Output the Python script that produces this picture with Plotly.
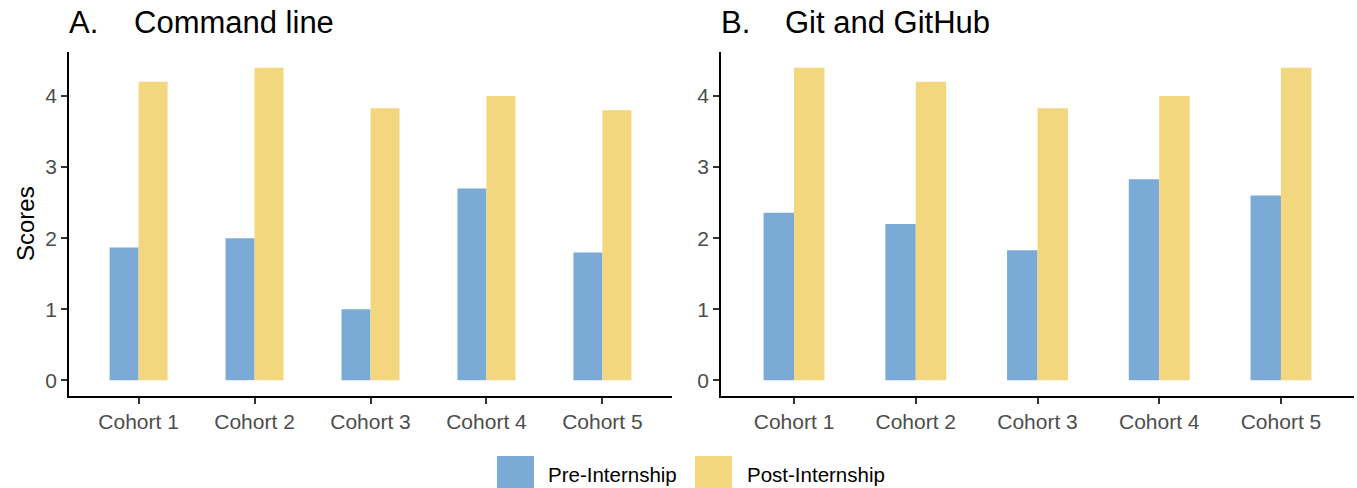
import plotly.graph_objects as go

W, H = 1357, 488

cohorts = ["Cohort 1", "Cohort 2", "Cohort 3", "Cohort 4", "Cohort 5"]
cmd_pre = [1.87, 2.0, 1.0, 2.7, 1.8]
cmd_post = [4.2, 4.4, 3.83, 4.0, 3.8]
git_pre = [2.36, 2.2, 1.83, 2.83, 2.6]
git_post = [4.4, 4.2, 3.83, 4.0, 4.4]
y_ticks = [0, 1, 2, 3, 4]
series_names = ["Pre-Internship", "Post-Internship"]
series_colors = ["#7BAAD6", "#F2D77E"]
panel_titles = [("A.", "Command line"), ("B.", "Git and GitHub")]

FONT = "Liberation Sans, Arial, sans-serif"

fig = go.Figure()
for vals, name, col in zip([cmd_pre, cmd_post], series_names, series_colors):
    fig.add_trace(go.Bar(x=cohorts, y=vals, name=name, marker=dict(color=col, line=dict(width=0)),
                         xaxis="x", yaxis="y", showlegend=False))
for vals, name, col in zip([git_pre, git_post], series_names, series_colors):
    fig.add_trace(go.Bar(x=cohorts, y=vals, name=name, marker=dict(color=col, line=dict(width=0)),
                         xaxis="x2", yaxis="y2", showlegend=False))

def px_x(p):
    return p / W

def px_y(p):
    return 1 - p / H

ydom = [px_y(396), px_y(52)]
common_x = dict(showline=True, linecolor="black", linewidth=1.8, ticks="outside", ticklen=6,
                tickcolor="#333333", tickwidth=1.5, showgrid=False, zeroline=False,
                tickfont=dict(family=FONT, size=21, color="#4D4D4D"), range=[-0.6, 4.6],
                fixedrange=True)
common_y = dict(showline=True, linecolor="black", linewidth=1.8, ticks="outside", ticklen=6,
                tickcolor="#333333", tickwidth=1.5, showgrid=False, zeroline=False,
                tickfont=dict(family=FONT, size=21, color="#4D4D4D"), range=[-0.22, 4.62],
                tickvals=y_ticks, domain=ydom, fixedrange=True)

annotations = []
for (lab, ttl), lx, tx in zip(panel_titles, [67, 719], [132, 783]):
    annotations.append(dict(text=lab, x=px_x(lx), y=px_y(23), xref="paper", yref="paper",
                            xanchor="left", yanchor="middle", showarrow=False,
                            font=dict(family=FONT, size=31, color="black")))
    annotations.append(dict(text=ttl, x=px_x(tx), y=px_y(23), xref="paper", yref="paper",
                            xanchor="left", yanchor="middle", showarrow=False,
                            font=dict(family=FONT, size=31, color="black")))
annotations.append(dict(text="Scores", x=px_x(25), y=px_y(224), xref="paper", yref="paper",
                        xanchor="center", yanchor="middle", textangle=-90, showarrow=False,
                        font=dict(family=FONT, size=24, color="black")))

shapes = []
key_x = [497, 695]
text_x = [546, 745]
for kx, tx, name, col in zip(key_x, text_x, series_names, series_colors):
    shapes.append(dict(type="rect", xref="paper", yref="paper", x0=px_x(kx), x1=px_x(kx + 37),
                       y0=px_y(488), y1=px_y(456), fillcolor=col, line=dict(width=0)))
    annotations.append(dict(text=name, x=px_x(tx), y=px_y(474), xref="paper", yref="paper",
                            xanchor="left", yanchor="middle", showarrow=False,
                            font=dict(family=FONT, size=20.5, color="black")))

fig.update_layout(
    width=W, height=H, autosize=False,
    margin=dict(l=0, r=0, t=0, b=0),
    paper_bgcolor="white", plot_bgcolor="white",
    barmode="group", bargap=0.5, bargroupgap=0,
    xaxis=dict(domain=[px_x(69), px_x(672)], anchor="y", **common_x),
    yaxis=dict(anchor="x", **common_y),
    xaxis2=dict(domain=[px_x(721), px_x(1354)], anchor="y2", **common_x),
    yaxis2=dict(anchor="x2", **common_y),
    annotations=annotations, shapes=shapes,
    showlegend=False,
    font=dict(family=FONT),
)

fig.write_html(
    "out.html",
    config={"displayModeBar": False},
    post_script="document.body.style.margin='0';document.body.style.padding='0';"
                "document.body.style.overflow='hidden';document.documentElement.style.overflow='hidden';",
)
